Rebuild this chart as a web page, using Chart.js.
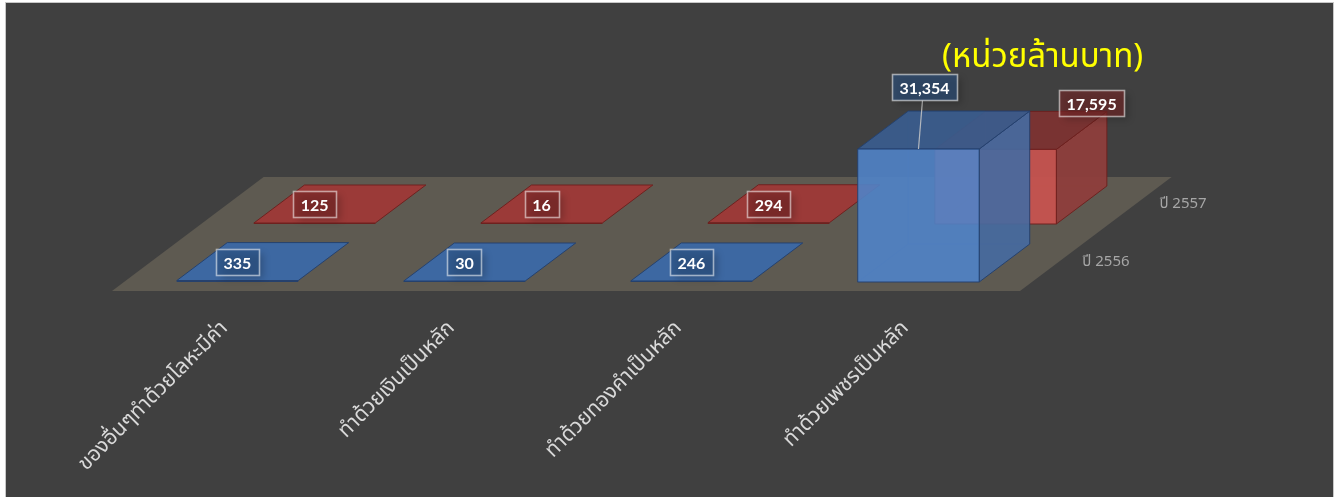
<!DOCTYPE html>
<html>
<head>
<meta charset="utf-8">
<script src="https://cdn.jsdelivr.net/npm/chart.js@4.4.1/dist/chart.umd.min.js"></script>
<style>
  html, body { margin: 0; padding: 0; background: #ffffff; }
  canvas { display: block; }
</style>
</head>
<body>
<canvas id="chart" width="1341" height="497"></canvas>
<script>
// ---- data ----
const categories = ['ของอื่นๆทำด้วยโลหะมีค่า', 'ทำด้วยเงินเป็นหลัก', 'ทำด้วยทองคำเป็นหลัก', 'ทำด้วยเพชรเป็นหลัก'];
const seriesNames = ['ปี 2556', 'ปี 2557'];
const values2556 = [335, 30, 246, 31354];
const values2557 = [125, 16, 294, 17595];
const unitTitle = '(หน่วยล้านบาท)';

// ---- look ----
const THAI_FONT = 'Tahoma, "Noto Sans Thai", "Noto Sans", "DejaVu Sans", sans-serif';
const LABEL_FONT = 'bold 16px Lato, "Open Sans", sans-serif';

// oblique projection: depth is measured as vertical rise in px, shifted right by SLANT per px
const SLANT = 1.33;
const FLOOR_DEPTH = 114;
const ROW_FRONT = [9, 67];    // depth at which each series row starts
const ROW_DEPTH = 38;         // depth of each bar

const styles = [
  { front: 'rgba(80,131,200,0.9)', side: 'rgba(70,106,160,0.92)', top: 'rgba(58,92,142,0.92)',
    flat: 'rgb(61,104,162)', edge: 'rgba(36,64,110,0.95)', inner: 'rgba(40,72,125,0.45)',
    labelFill: 'rgba(42,80,128,0.6)' },
  { front: 'rgba(198,83,79,0.95)', side: 'rgba(142,62,60,0.95)', top: 'rgba(124,51,49,0.95)',
    flat: 'rgb(155,58,56)', edge: 'rgba(110,32,30,0.95)', inner: 'rgba(110,32,30,0.4)',
    labelFill: 'rgba(118,38,38,0.6)' }
];

// labels of tall bars sit above the box, nudged as [dx, dy] from the front-top centre
const calloutNudge = { '0-3': { dx: 6, dy: -62, leader: true }, '1-3': { dx: 96, dy: -46, leader: false } };

function proj(x, y, d) { return [x + SLANT * d, y - d]; }

function poly(ctx, pts, fill, stroke) {
  ctx.beginPath();
  ctx.moveTo(pts[0][0], pts[0][1]);
  for (let i = 1; i < pts.length; i++) ctx.lineTo(pts[i][0], pts[i][1]);
  ctx.closePath();
  if (fill) { ctx.fillStyle = fill; ctx.fill(); }
  if (stroke) { ctx.strokeStyle = stroke; ctx.lineWidth = 1; ctx.stroke(); }
}

const backdrop = {
  id: 'backdrop',
  beforeDraw(chart) {
    const ctx = chart.ctx;
    ctx.save();
    ctx.fillStyle = '#ffffff';
    ctx.fillRect(0, 0, chart.width, chart.height);
    ctx.fillStyle = '#404040';
    ctx.fillRect(6, 3, chart.width - 14, chart.height - 3);
    ctx.strokeStyle = '#c8c8c8';
    ctx.lineWidth = 1;
    ctx.strokeRect(5.5, 2.5, chart.width - 13, chart.height);
    ctx.restore();
  }
};

const boxes3d = {
  id: 'boxes3d',
  beforeDatasetsDraw(chart) {
    const ctx = chart.ctx;
    const a = chart.chartArea;
    ctx.save();

    // floor
    poly(ctx, [proj(a.left, a.bottom, 0), proj(a.right, a.bottom, 0),
               proj(a.right, a.bottom, FLOOR_DEPTH), proj(a.left, a.bottom, FLOOR_DEPTH)], '#5e5a51');

    // boxes, back row first
    for (let di = chart.data.datasets.length - 1; di >= 0; di--) {
      const meta = chart.getDatasetMeta(di);
      const st = styles[di];
      const d0 = ROW_FRONT[di], d1 = d0 + ROW_DEPTH;
      meta.data.forEach((el) => {
        const { x, y, base, width } = el.getProps(['x', 'y', 'base', 'width'], true);
        const xl = x - width / 2, xr = x + width / 2;
        const yb = base, yt = Math.min(y, base - 1);
        const tall = (yb - yt) > 4;
        if (tall) {
          // faint hidden edges seen through the translucent faces
          ctx.beginPath();
          let p = proj(xl, yt, d1); ctx.moveTo(p[0], p[1]);
          p = proj(xl, yb, d1); ctx.lineTo(p[0], p[1]);
          p = proj(xr, yb, d1); ctx.lineTo(p[0], p[1]);
          p = proj(xl, yb, d1); ctx.moveTo(p[0], p[1]);
          p = proj(xl, yb, d0); ctx.lineTo(p[0], p[1]);
          ctx.strokeStyle = st.inner; ctx.lineWidth = 1; ctx.stroke();

          poly(ctx, [proj(xr, yt, d0), proj(xr, yt, d1), proj(xr, yb, d1), proj(xr, yb, d0)], st.side, st.edge);
          poly(ctx, [proj(xl, yt, d0), proj(xr, yt, d0), proj(xr, yt, d1), proj(xl, yt, d1)], st.top, st.edge);
          poly(ctx, [proj(xl, yt, d0), proj(xr, yt, d0), proj(xr, yb, d0), proj(xl, yb, d0)], st.front, st.edge);
        } else {
          poly(ctx, [proj(xl, yt, d0), proj(xr, yt, d0), proj(xr, yt, d1), proj(xl, yt, d1)], st.flat, st.edge);
          poly(ctx, [proj(xl, yt, d0), proj(xr, yt, d0), proj(xr, yb, d0), proj(xl, yb, d0)], st.edge);
        }
      });
    }

    // series names along the right edge of the floor
    ctx.font = '15px ' + THAI_FONT;
    ctx.fillStyle = '#a6a6a6';
    ctx.textAlign = 'left';
    ctx.textBaseline = 'middle';
    chart.data.datasets.forEach((ds, di) => {
      const p = proj(a.right, a.bottom, ROW_FRONT[di] + ROW_DEPTH / 2);
      ctx.fillText(ds.label, p[0] + 25, p[1]);
    });

    // value labels
    ctx.font = LABEL_FONT;
    chart.data.datasets.forEach((ds, di) => {
      const meta = chart.getDatasetMeta(di);
      const st = styles[di];
      const d0 = ROW_FRONT[di];
      meta.data.forEach((el, i) => {
        const { x, y, base } = el.getProps(['x', 'y', 'base'], true);
        const yt = Math.min(y, base - 1);
        const text = ds.data[i].toLocaleString('en-US');
        const frontTop = proj(x, yt, d0);
        let cx = frontTop[0], cy = proj(x, yt, d0 + ROW_DEPTH / 2)[1];
        const nudge = calloutNudge[di + '-' + i];
        if (nudge) { cx = frontTop[0] + nudge.dx; cy = frontTop[1] + nudge.dy; }
        const tw = ctx.measureText(text).width;
        const bw = Math.round(tw + 15), bh = 26;
        const bx = Math.round(cx - bw / 2) + 0.5, by = Math.round(cy - bh / 2) + 0.5;
        if (nudge && nudge.leader) {
          ctx.beginPath();
          ctx.moveTo(frontTop[0], frontTop[1]);
          ctx.lineTo(cx - 2, by + bh);
          ctx.strokeStyle = 'rgba(200,200,200,0.85)';
          ctx.lineWidth = 1.2;
          ctx.stroke();
        }
        ctx.save();
        ctx.shadowColor = 'rgba(0,0,0,0.35)';
        ctx.shadowBlur = 7;
        ctx.shadowOffsetX = 4;
        ctx.shadowOffsetY = 3;
        ctx.fillStyle = st.labelFill;
        ctx.fillRect(bx, by, bw, bh);
        ctx.restore();
        ctx.strokeStyle = 'rgba(255,255,255,0.55)';
        ctx.lineWidth = 1.6;
        ctx.strokeRect(bx, by, bw, bh);
        ctx.fillStyle = '#ffffff';
        ctx.textAlign = 'center';
        ctx.textBaseline = 'middle';
        ctx.fillText(text, cx, by + bh / 2 + 1);
      });
    });

    // unit caption
    ctx.font = '33px ' + THAI_FONT;
    ctx.fillStyle = '#ffff00';
    ctx.textAlign = 'left';
    ctx.textBaseline = 'middle';
    ctx.fillText(unitTitle, a.right - 78, 60);

    ctx.restore();
    return false;
  }
};

new Chart(document.getElementById('chart'), {
  type: 'bar',
  data: {
    labels: categories,
    datasets: [
      { label: seriesNames[0], data: values2556 },
      { label: seriesNames[1], data: values2557 }
    ]
  },
  options: {
    responsive: false,
    animation: false,
    devicePixelRatio: 1,
    layout: { padding: { left: 112, right: 321, top: 79, bottom: 0 } },
    datasets: { bar: { grouped: false, categoryPercentage: 1, barPercentage: 0.535 } },
    plugins: { legend: { display: false }, tooltip: { enabled: false }, title: { display: false } },
    scales: {
      x: {
        grid: { display: false },
        border: { display: false },
        ticks: {
          color: '#d9d9d9',
          font: { size: 21, family: THAI_FONT },
          minRotation: 45,
          maxRotation: 45,
          autoSkip: false,
          padding: 18
        },
        afterFit(scale) { scale.height = 206; }
      },
      y: { display: false, min: 0, max: 50000 }
    }
  },
  plugins: [backdrop, boxes3d]
});
</script>
</body>
</html>
